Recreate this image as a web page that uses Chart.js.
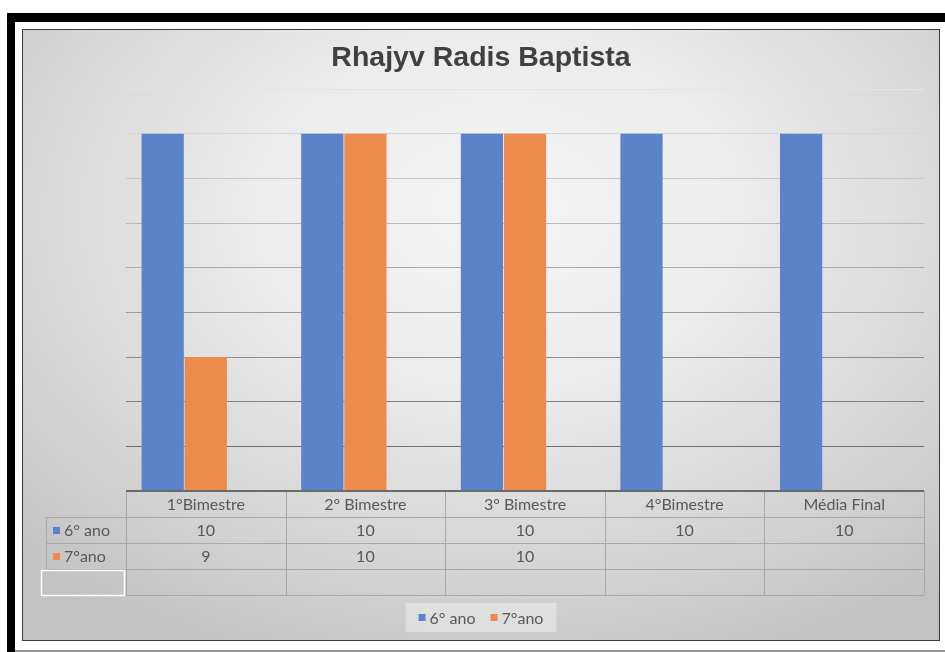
<!DOCTYPE html>
<html>
<head>
<meta charset="utf-8">
<title>Rhajyv Radis Baptista</title>
<script src="https://cdn.jsdelivr.net/npm/chart.js@4.4.1/dist/chart.umd.min.js"></script>
<style>
  html, body { margin: 0; padding: 0; background: #fff; }
  #frame { position: absolute; left: 7px; top: 13px; width: 938px; height: 639px;
           border-top: 9px solid #000; border-left: 8px solid #000; box-sizing: border-box; }
  #baseline { position: absolute; left: 15px; top: 650px; width: 930px; height: 2px; background: #9a9a9a; }
  #panel { position: absolute; left: 22px; top: 29px; width: 918px; height: 612px; box-sizing: border-box;
           border: 1px solid #3a3a3a;
           background: radial-gradient(ellipse 75% 80% at 52% 30%, #f5f5f5 0%, #ececec 35%, #d6d6d6 70%, #c2c2c2 100%); }
  #chart { position: absolute; left: 0; top: 0; }
</style>
</head>
<body>
<div id="frame"></div>
<div id="baseline"></div>
<div id="panel"></div>
<canvas id="chart" width="945" height="652"></canvas>
<script>
// chart values
var chartTitle = 'Rhajyv Radis Baptista';
var categories = ['1°Bimestre', '2° Bimestre', '3° Bimestre', '4°Bimestre', 'Média Final'];
var seriesNames = ['6° ano', '7°ano', ''];
var sextoAno = [10, 10, 10, 10, 10];
var setimoAno = [9, 10, 10, null, null];
var emptySeries = [null, null, null, null, null];   // blank third row of the table

var yMin = 8.4, yMax = 10.2, yStep = 0.2;

var blue = '#5b83ca';
var orange = '#ec8b4b';
var textColor = '#595959';
var tableFont = '16px Lato, "Open Sans", sans-serif';

// title centred on the whole panel, not only on the plot
var titlePlugin = {
  id: 'panelTitle',
  afterDraw: function(chart) {
    var ctx = chart.ctx;
    ctx.save();
    ctx.font = 'bold 28.5px "Liberation Sans", Arial, sans-serif';
    ctx.fillStyle = '#404040';
    ctx.textAlign = 'center';
    ctx.textBaseline = 'alphabetic';
    ctx.fillText(chartTitle, 481, 66);
    ctx.restore();
  }
};

// data table under the plot, columns follow the x scale
var tablePlugin = {
  id: 'dataTable',
  afterDraw: function(chart) {
    var ctx = chart.ctx;
    var area = chart.chartArea;
    var xs = chart.scales.x;
    var sets = chart.data.datasets;
    var labels = chart.data.labels;
    var colW = (area.right - area.left) / labels.length;
    var rowH = 26;
    var top = area.bottom;
    var rows = sets.length + 1;
    var bottom = top + rows * rowH;
    var labelLeft = 46;

    ctx.save();
    ctx.strokeStyle = '#a8a8a8';
    ctx.lineWidth = 1;

    // horizontal lines
    for (var r = 1; r <= rows; r++) {
      var y = Math.round(top + r * rowH) + 0.5;
      var startX = labelLeft;
      if (r === rows && sets[sets.length - 1].label === '') startX = area.left;
      ctx.beginPath();
      ctx.moveTo(startX, y);
      ctx.lineTo(area.right, y);
      ctx.stroke();
    }
    // vertical lines at category edges
    for (var i = 0; i <= labels.length; i++) {
      var x = Math.round(area.left + i * colW) + 0.5;
      ctx.beginPath();
      ctx.moveTo(x, top);
      ctx.lineTo(x, bottom);
      ctx.stroke();
    }

    // header + values
    ctx.font = tableFont;
    ctx.fillStyle = textColor;
    ctx.textAlign = 'center';
    ctx.textBaseline = 'middle';
    labels.forEach(function(lab, i) {
      var cx = xs.getPixelForValue(i);
      ctx.fillText(lab, cx, top + rowH / 2 + 1);
      sets.forEach(function(ds, s) {
        var v = ds.data[i];
        if (v !== null && v !== undefined) {
          ctx.fillText(String(v), cx, top + (s + 1.5) * rowH + 1);
        }
      });
    });

    // series label column
    sets.forEach(function(ds, s) {
      var y0 = top + (s + 1) * rowH;
      if (ds.label === '') {
        ctx.strokeStyle = '#ffffff';
        ctx.lineWidth = 1.5;
        ctx.strokeRect(41.5, y0 + 1.5, 83, rowH - 1);
        return;
      }
      ctx.strokeStyle = '#a8a8a8';
      ctx.lineWidth = 1;
      ctx.beginPath();
      ctx.moveTo(labelLeft + 0.5, y0);
      ctx.lineTo(labelLeft + 0.5, y0 + rowH);
      ctx.stroke();
      ctx.fillStyle = ds.backgroundColor;
      ctx.fillRect(53, y0 + rowH / 2 - 3, 7, 7);
      ctx.fillStyle = textColor;
      ctx.textAlign = 'left';
      ctx.fillText(ds.label, 64, y0 + rowH / 2 + 1);
    });

    // axis line / table top
    ctx.strokeStyle = '#6a6a6a';
    ctx.lineWidth = 2;
    ctx.beginPath();
    ctx.moveTo(area.left, top);
    ctx.lineTo(area.right, top);
    ctx.stroke();
    ctx.restore();
  }
};

// legend box at the bottom
var legendPlugin = {
  id: 'bottomLegend',
  afterDraw: function(chart) {
    var ctx = chart.ctx;
    var items = chart.data.datasets.filter(function(d) { return d.label !== ''; });
    ctx.save();
    ctx.font = '16px Lato, "Open Sans", sans-serif';
    var widths = items.map(function(d) { return 11 + ctx.measureText(d.label).width; });
    var gap = 15;
    var total = widths.reduce(function(a, b) { return a + b; }, 0) + gap * (items.length - 1);
    var cx = 481;
    var boxW = total + 26, boxH = 29;
    var boxX = cx - boxW / 2, boxY = 603;
    ctx.fillStyle = 'rgba(255,255,255,0.35)';
    ctx.fillRect(boxX, boxY, boxW, boxH);
    var x = cx - total / 2;
    var y = boxY + boxH / 2;
    ctx.textBaseline = 'middle';
    ctx.textAlign = 'left';
    items.forEach(function(d, i) {
      ctx.fillStyle = d.backgroundColor;
      ctx.fillRect(x, y - 3.5, 7, 7);
      ctx.fillStyle = textColor;
      ctx.fillText(d.label, x + 11, y + 1);
      x += widths[i] + gap;
    });
    ctx.restore();
  }
};

function gridColor(c) {
  var v = c.tick ? c.tick.value : yMax;
  var t = (yMax - v) / (yMax - yMin);
  var g = Math.round(228 - t * 130);
  return 'rgb(' + g + ',' + g + ',' + g + ')';
}

new Chart(document.getElementById('chart'), {
  type: 'bar',
  data: {
    labels: categories,
    datasets: [
      { label: seriesNames[0], data: sextoAno, backgroundColor: blue },
      { label: seriesNames[1], data: setimoAno, backgroundColor: orange },
      { label: seriesNames[2], data: emptySeries, backgroundColor: '#a5a5a5' }
    ]
  },
  options: {
    responsive: false,
    animation: false,
    layout: { padding: { left: 126, right: 21, top: 89, bottom: 161 } },
    datasets: { bar: { categoryPercentage: 0.81, barPercentage: 0.98 } },
    scales: {
      x: {
        display: false
      },
      y: {
        min: yMin,
        max: yMax,
        ticks: { display: false, stepSize: yStep },
        border: { display: false },
        grid: { color: gridColor, drawTicks: false, lineWidth: 1 }
      }
    },
    plugins: {
      legend: { display: false },
      tooltip: { enabled: false },
      title: { display: false }
    }
  },
  plugins: [tablePlugin, legendPlugin, titlePlugin]
});
</script>
</body>
</html>
